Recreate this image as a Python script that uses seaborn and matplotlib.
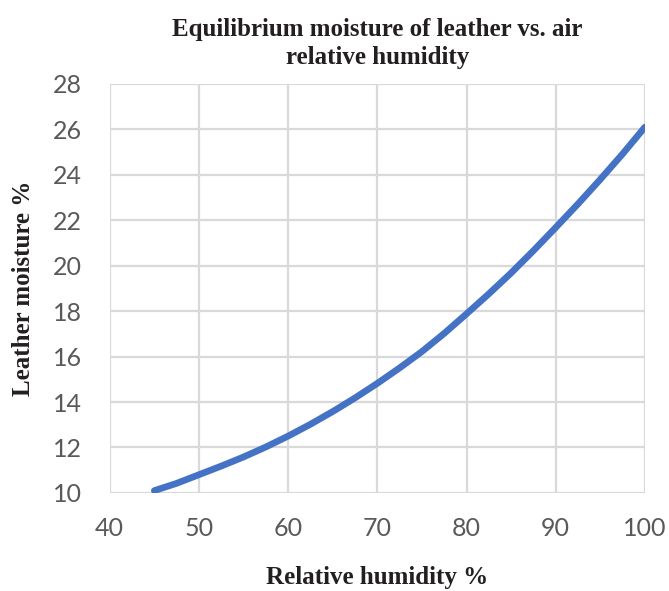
import matplotlib
matplotlib.use("Agg")
import matplotlib.pyplot as plt
import seaborn as sns
import pandas as pd

# Values
humidity = [45, 47.5, 50, 52.5, 55, 57.5, 60, 62.5, 65, 67.5, 70, 72.5,
            75, 77.5, 80, 82.5, 85, 87.5, 90, 92.5, 95, 97.5, 100]
moisture = [10.1, 10.42, 10.8, 11.18, 11.58, 12.02, 12.5, 13.02, 13.58, 14.18, 14.82, 15.5,
            16.22, 17.02, 17.88, 18.76, 19.68, 20.66, 21.68, 22.72, 23.8, 24.92, 26.1]

x_ticks = [40, 50, 60, 70, 80, 90, 100]
y_ticks = [10, 12, 14, 16, 18, 20, 22, 24, 26, 28]

df = pd.DataFrame({"humidity": humidity, "moisture": moisture})

sns.set_style("white")
fig = plt.figure(figsize=(6.69, 5.91), dpi=100)
ax = fig.add_axes([0.164, 0.166, 0.800, 0.692])

sns.lineplot(data=df, x="humidity", y="moisture", ax=ax,
             color="#4472C4", linewidth=4.8, solid_capstyle="round",
             solid_joinstyle="round")

ax.set_xlim(40, 100)
ax.set_ylim(10, 28)
ax.set_xticks(x_ticks)
ax.set_yticks(y_ticks)
ax.grid(True, color="#d9d9d9", linewidth=1.6)
ax.set_axisbelow(True)
for s in ax.spines.values():
    s.set_visible(False)
ax.tick_params(axis="y", length=0, pad=20, labelsize=18, labelcolor="#595959")
ax.tick_params(axis="x", length=0, pad=17, labelsize=18, labelcolor="#595959")
for lbl in ax.get_xticklabels() + ax.get_yticklabels():
    lbl.set_family("Lato")

serif = dict(family="Liberation Serif", weight="bold", size=18, color="#231f20")
ax.set_xlabel("Relative humidity %", labelpad=19, **serif)
ax.set_ylabel("Leather moisture %", labelpad=13, **serif)
ax.set_title("Equilibrium moisture of leather vs. air\nrelative humidity",
             pad=14, linespacing=1.3, **serif)

fig.savefig("out.png", dpi=100)
